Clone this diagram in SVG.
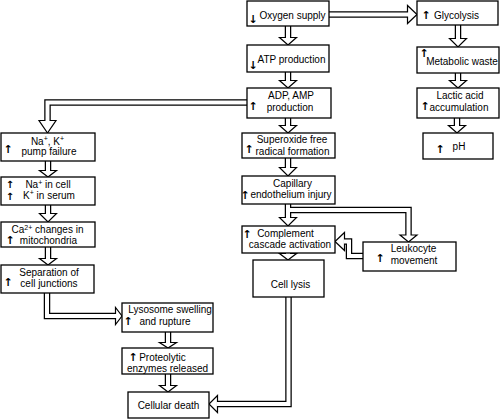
<svg xmlns="http://www.w3.org/2000/svg" width="500" height="420" viewBox="0 0 500 420">
<style>
.bx{fill:#fff;stroke:#000;stroke-width:1.3}
.t{font-family:"Liberation Sans",Arial,sans-serif;font-size:10px;fill:#000;text-anchor:middle}
.sp{font-size:7px}
.ar{font-family:"DejaVu Sans",sans-serif;font-weight:bold;font-size:11px;fill:#000;text-anchor:middle}
.ars{font-size:10px}
.co{fill:none;stroke:#000;stroke-width:6.5;stroke-linejoin:miter}
.ci{fill:none;stroke:#fff;stroke-width:4;stroke-linejoin:miter}
.hd{fill:#fff;stroke:#000;stroke-width:1.2;stroke-linejoin:miter}
</style>
<rect width="500" height="420" fill="#fff"/>
<g id="connectors">
  <g id="outer">
    <path class="co" d="M288 26V38"/>
    <path class="co" d="M288 72V81"/>
    <path class="co" d="M288 118V126"/>
    <path class="co" d="M288 158V168"/>
    <path class="co" d="M288 204V218"/>
    <path class="co" d="M288 253V254"/>
    <path class="co" d="M458 25V39"/>
    <path class="co" d="M458 73V81"/>
    <path class="co" d="M457 118V126"/>
    <path class="co" d="M48 161V171"/>
    <path class="co" d="M48 205V214"/>
    <path class="co" d="M48 247V259"/>
    <path class="co" d="M168 332V343"/>
    <path class="co" d="M168 374V386"/>
    <path class="co" d="M329 14.5H408"/>
    <path class="co" d="M247 102.5H47.5V121"/>
    <path class="co" d="M288 210H408.5V235.5"/>
    <path class="co" d="M363 256H349V241.5H345"/>
    <path class="co" d="M47 293V316H116"/>
    <path class="co" d="M288.5 297V404H218"/>
  </g>
  <g id="heads">
    <polygon class="hd" points="279.5,37.5 296.5,37.5 288,45"/>
    <polygon class="hd" points="279.5,80.5 296.5,80.5 288,88"/>
    <polygon class="hd" points="279.5,125.5 296.5,125.5 288,133"/>
    <polygon class="hd" points="279.5,167.5 296.5,167.5 288,176"/>
    <polygon class="hd" points="279.5,217.5 296.5,217.5 288,226"/>
    <polygon class="hd" points="279.5,253.5 296.5,253.5 288,260"/>
    <polygon class="hd" points="449.5,38.5 466.5,38.5 458,47"/>
    <polygon class="hd" points="449.5,80.5 466.5,80.5 458,88"/>
    <polygon class="hd" points="448.5,125.5 465.5,125.5 457,133"/>
    <polygon class="hd" points="39.5,170.5 56.5,170.5 48,177"/>
    <polygon class="hd" points="39.5,213.5 56.5,213.5 48,222"/>
    <polygon class="hd" points="39.5,258.5 56.5,258.5 48,265"/>
    <polygon class="hd" points="159.5,342.5 176.5,342.5 168,348"/>
    <polygon class="hd" points="159.5,385.5 176.5,385.5 168,392"/>
    <polygon class="hd" points="407.5,5.5 407.5,23.5 417,14.5"/>
    <polygon class="hd" points="39,120.5 56,120.5 47.5,133"/>
    <polygon class="hd" points="400,235 417,235 408.5,242"/>
    <polygon class="hd" points="344.5,232.5 344.5,250.5 335,241.5"/>
    <polygon class="hd" points="115.5,307.5 115.5,324.5 122,316"/>
    <polygon class="hd" points="217.5,395.5 217.5,412.5 209,404"/>
  </g>
  <g id="inner">
    <path class="ci" d="M288 26V39"/>
    <path class="ci" d="M288 72V82"/>
    <path class="ci" d="M288 118V127"/>
    <path class="ci" d="M288 158V169"/>
    <path class="ci" d="M288 204V219"/>
    <path class="ci" d="M288 253V255"/>
    <path class="ci" d="M458 25V40"/>
    <path class="ci" d="M458 73V82"/>
    <path class="ci" d="M457 118V127"/>
    <path class="ci" d="M48 161V172"/>
    <path class="ci" d="M48 205V215"/>
    <path class="ci" d="M48 247V260"/>
    <path class="ci" d="M168 332V344"/>
    <path class="ci" d="M168 374V387"/>
    <path class="ci" d="M329 14.5H409"/>
    <path class="ci" d="M247 102.5H47.5V122"/>
    <path class="ci" d="M288 210H408.5V236.5"/>
    <path class="ci" d="M363 256H349V241.5H343.5"/>
    <path class="ci" d="M47 293V316H117"/>
    <path class="ci" d="M288.5 297V404H216.5"/>
  </g>
</g>
<g id="n-oxygen"><rect class="bx" x="247" y="1" width="82" height="25"/><text class="ar" x="253" y="23">↓</text><text class="t" x="292.5" y="18.5">Oxygen supply</text></g>
<g id="n-atp"><rect class="bx" x="247" y="45" width="82" height="27"/><text class="ar" x="253" y="69">↓</text><text class="t" x="291.5" y="63">ATP production</text></g>
<g id="n-adp"><rect class="bx" x="247" y="88" width="84" height="30"/><text class="ar" x="253" y="110">↑</text><text class="t" x="291" y="99">ADP, AMP</text><text class="t" x="290" y="111">production</text></g>
<g id="n-superoxide"><rect class="bx" x="242" y="133" width="93" height="25"/><text class="ar" x="249" y="153">↑</text><text class="t" x="292" y="143">Superoxide free</text><text class="t" x="292.5" y="155">radical formation</text></g>
<g id="n-capillary"><rect class="bx" x="242" y="176" width="93" height="28"/><text class="ar" x="245" y="199">↑</text><text class="t" x="292.5" y="187">Capillary</text><text class="t" x="291" y="198">endothelium injury</text></g>
<g id="n-complement"><rect class="bx" x="242" y="226" width="93" height="27"/><text class="ar" x="247" y="238">↑</text><text class="t" x="285.5" y="237">Complement</text><text class="t" x="290" y="248">cascade activation</text></g>
<g id="n-lysis"><rect class="bx" x="253" y="260" width="71" height="37"/><text class="t" x="290.5" y="288">Cell lysis</text></g>
<g id="n-glycolysis"><rect class="bx" x="417" y="1" width="81" height="24"/><text class="ar" x="426" y="19">↑</text><text class="t" x="456.5" y="19">Glycolysis</text></g>
<g id="n-metabolic"><rect class="bx" x="417" y="47" width="82" height="26"/><text class="ar" x="424" y="57">↑</text><text class="t" x="462" y="65">Metabolic waste</text></g>
<g id="n-lactic"><rect class="bx" x="417" y="88" width="82" height="30"/><text class="ar" x="425" y="110">↑</text><text class="t" x="460" y="99">Lactic acid</text><text class="t" x="459" y="111">accumulation</text></g>
<g id="n-ph"><rect class="bx" x="423" y="133" width="70" height="26"/><text class="ar" x="440" y="153">↑</text><text class="t" x="459" y="150">pH</text></g>
<g id="n-pump"><rect class="bx" x="1" y="133" width="94" height="28"/><text class="ar" x="8" y="153">↑</text><text class="t" x="47.5" y="144.5">Na<tspan class="sp" dy="-3.5">+</tspan><tspan dy="3.5">, K</tspan><tspan class="sp" dy="-3.5">+</tspan></text><text class="t" x="49" y="155">pump failure</text></g>
<g id="n-nacell"><rect class="bx" x="1" y="177" width="94" height="28"/><text class="ar ars" x="10" y="188">↑</text><text class="ar ars" x="10" y="200">↑</text><text class="t" x="48" y="188">Na<tspan class="sp" dy="-3.5">+</tspan><tspan dy="3.5"> in cell</tspan></text><text class="t" x="49" y="198.5">K<tspan class="sp" dy="-3.5">+</tspan><tspan dy="3.5"> in serum</tspan></text></g>
<g id="n-ca"><rect class="bx" x="1" y="222" width="94" height="25"/><text class="ar" x="10" y="244">↑</text><text class="t" x="47.5" y="233">Ca<tspan class="sp" dy="-3.5">2+</tspan><tspan dy="3.5"> changes in</tspan></text><text class="t" x="48.5" y="244">mitochondria</text></g>
<g id="n-separation"><rect class="bx" x="1" y="265" width="93" height="28"/><text class="ar" x="8" y="286">↑</text><text class="t" x="49" y="276">Separation of</text><text class="t" x="49" y="287">cell junctions</text></g>
<g id="n-lysosome"><rect class="bx" x="122" y="303" width="91" height="29"/><text class="ar" x="128" y="325">↑</text><text class="t" x="170" y="313">Lysosome swelling</text><text class="t" x="165" y="325">and rupture</text></g>
<g id="n-proteolytic"><rect class="bx" x="122" y="348" width="91" height="26"/><text class="ar" x="133" y="361">↑</text><text class="t" x="162.5" y="361">Proteolytic</text><text class="t" x="167.5" y="372">enzymes released</text></g>
<g id="n-death"><rect class="bx" x="128" y="392" width="81" height="26"/><text class="t" x="168.5" y="409">Cellular death</text></g>
<g id="n-leukocyte"><rect class="bx" x="363" y="242" width="93" height="29"/><text class="ar" x="380" y="262">↑</text><text class="t" x="413.5" y="252">Leukocyte</text><text class="t" x="414" y="264">movement</text></g>
</svg>
